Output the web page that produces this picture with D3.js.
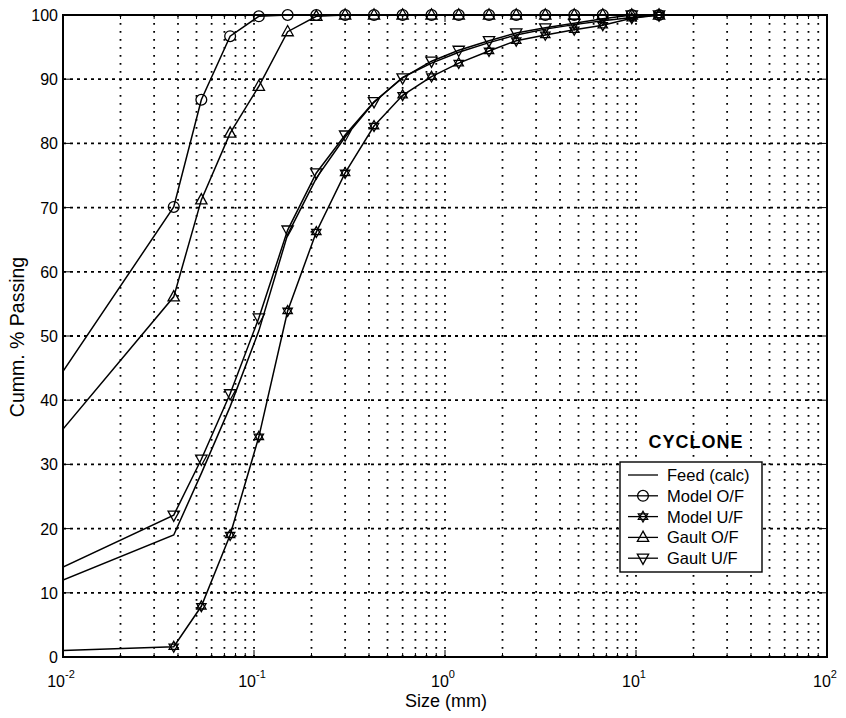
<!DOCTYPE html>
<html>
<head>
<meta charset="utf-8">
<script src="https://cdn.jsdelivr.net/npm/d3@7"></script>
<style>
  body { margin: 0; background: #fff; }
  svg { font-family: "Liberation Sans", Arial, sans-serif; }
</style>
</head>
<body>
<svg id="chart" width="846" height="718"></svg>
<script>
// ---- data ----
// first size (0.01) is the left-edge start of each line (no marker drawn there)
const sizes = [0.01, 0.038, 0.053, 0.075, 0.106, 0.15, 0.212, 0.3, 0.425, 0.6, 0.85, 1.18, 1.7, 2.36, 3.35, 4.75, 6.7, 9.5, 13.2];
const feedCalc = [12.0, 19.0, 28.6, 39.0, 50.8, 65.8, 74.6, 81.0, 86.4, 90.3, 92.5, 94.2, 95.7, 96.9, 97.8, 98.5, 99.1, 99.6, 100];
const modelOF  = [44.5, 70.1, 86.8, 96.7, 99.8, 100, 100, 100, 100, 100, 100, 100, 100, 100, 100, 100, 100, 100, 100];
const modelUF  = [1.0, 1.6, 7.9, 19.0, 34.3, 53.9, 66.2, 75.4, 82.7, 87.5, 90.4, 92.5, 94.4, 96.0, 96.9, 97.7, 98.4, 99.5, 100];
const gaultOF  = [35.5, 56.1, 71.2, 81.6, 88.9, 97.4, 99.8, 100, 100, 100, 100, 100, 100, 100, 100, 100, 100, 100, 100];
const gaultUF  = [14.0, 22.1, 30.8, 41.0, 52.8, 66.5, 75.4, 81.3, 86.5, 90.2, 92.8, 94.5, 96.0, 97.2, 98.0, 98.7, 99.4, 100, 100];

const seriesNames = ["Feed (calc)", "Model O/F", "Model U/F", "Gault O/F", "Gault U/F"];
const seriesValues = [feedCalc, modelOF, modelUF, gaultOF, gaultUF];
const seriesMarkers = ["none", "circle", "hexagram", "triUp", "triDown"];

const xTickExps = [-2, -1, 0, 1, 2];
const yTicks = [0, 10, 20, 30, 40, 50, 60, 70, 80, 90, 100];
const xLabel = "Size (mm)";
const yLabel = "Cumm. % Passing";
const legendTitle = "CYCLONE";

// ---- layout ----
const L = 63, R = 827, T = 15, B = 657;
const svg = d3.select("#chart");
const x = d3.scaleLog().domain([0.01, 100]).range([L, R]);
const y = d3.scaleLinear().domain([0, 100]).range([B, T]);

// minor decade values
const minorVals = [];
for (let e = -2; e < 2; e++) for (let k = 1; k <= 9; k++) minorVals.push(k * Math.pow(10, e));
minorVals.push(100);

// grid: vertical dotted
const grid = svg.append("g");
grid.selectAll("line.v").data(minorVals.filter(v => v > 0.0100001 && v < 99.999)).join("line")
  .attr("x1", d => x(d)).attr("x2", d => x(d)).attr("y1", T).attr("y2", B)
  .attr("stroke", "#000").attr("stroke-width", 1.8).attr("stroke-dasharray", "1.8,6.2");
grid.selectAll("line.h").data(yTicks.filter(v => v > 0 && v < 100)).join("line")
  .attr("x1", L).attr("x2", R).attr("y1", d => y(d)).attr("y2", d => y(d))
  .attr("stroke", "#000").attr("stroke-width", 1.8).attr("stroke-dasharray", "3,4");

// ticks (inward, on all four sides)
const ticks = svg.append("g").attr("stroke", "#000").attr("stroke-width", 1);
minorVals.forEach(v => {
  const major = Math.abs(Math.log10(v) - Math.round(Math.log10(v))) < 1e-9;
  const len = major ? 7 : 4;
  ticks.append("line").attr("x1", x(v)).attr("x2", x(v)).attr("y1", B).attr("y2", B - len);
  ticks.append("line").attr("x1", x(v)).attr("x2", x(v)).attr("y1", T).attr("y2", T + len);
});
yTicks.forEach(v => {
  ticks.append("line").attr("x1", L).attr("x2", L + 7).attr("y1", y(v)).attr("y2", y(v));
  ticks.append("line").attr("x1", R).attr("x2", R - 7).attr("y1", y(v)).attr("y2", y(v));
});

// frame
svg.append("rect").attr("x", L).attr("y", T).attr("width", R - L).attr("height", B - T)
  .attr("fill", "none").attr("stroke", "#000").attr("stroke-width", 2);

// tick labels
svg.append("g").selectAll("text").data(yTicks).join("text")
  .attr("x", L - 5).attr("y", d => y(d) + 6).attr("text-anchor", "end")
  .attr("font-size", 16).text(d => d);

const xl = svg.append("g").selectAll("text").data(xTickExps).join("text")
  .attr("x", d => x(Math.pow(10, d)) - 2).attr("y", B + 30).attr("text-anchor", "middle")
  .attr("font-size", 16);
xl.append("tspan").text("10");
xl.append("tspan").attr("dy", -9).attr("font-size", 11).text(d => d);

// axis titles
svg.append("text").attr("x", 446).attr("y", 707).attr("text-anchor", "middle")
  .attr("font-size", 18).text(xLabel);
svg.append("text").attr("transform", `translate(24,337) rotate(-90)`)
  .attr("text-anchor", "middle").attr("font-size", 19.5).text(yLabel);

// marker drawing
function drawMarker(g, type, cx, cy) {
  const s = 5.4;
  if (type === "circle") {
    g.append("circle").attr("cx", cx).attr("cy", cy).attr("r", s).attr("fill", "none").attr("stroke", "#000").attr("stroke-width", 1.3);
  } else if (type === "triUp" || type === "triDown") {
    const d = type === "triUp" ? 1 : -1;
    const pts = [[cx, cy - d * s * 1.15], [cx - s * 1.05, cy + d * s * 0.75], [cx + s * 1.05, cy + d * s * 0.75]];
    g.append("path").attr("d", "M" + pts.map(p => p.join(",")).join("L") + "Z")
      .attr("fill", "none").attr("stroke", "#000").attr("stroke-width", 1.3);
  } else if (type === "hexagram") {
    const r = s;
    const t1 = [0, 120, 240].map(a => [cx + r * Math.sin(a * Math.PI / 180), cy - r * Math.cos(a * Math.PI / 180)]);
    const t2 = [60, 180, 300].map(a => [cx + r * Math.sin(a * Math.PI / 180), cy - r * Math.cos(a * Math.PI / 180)]);
    [t1, t2].forEach(pts => g.append("path").attr("d", "M" + pts.map(p => p.join(",")).join("L") + "Z")
      .attr("fill", "none").attr("stroke", "#000").attr("stroke-width", 1.3));
  }
}

// clip
svg.append("clipPath").attr("id", "clip").append("rect").attr("x", L).attr("y", T - 8).attr("width", R - L).attr("height", B - T + 8);

const line = d3.line().x(d => x(d[0])).y(d => y(d[1]));
const plot = svg.append("g").attr("clip-path", "url(#clip)");
seriesValues.forEach((vals, i) => {
  const pts = sizes.map((s, j) => [s, vals[j]]);
  plot.append("path").attr("d", line(pts)).attr("fill", "none").attr("stroke", "#000").attr("stroke-width", 1.5);
});
const markG = svg.append("g");
seriesValues.forEach((vals, i) => {
  if (seriesMarkers[i] === "none") return;
  sizes.forEach((s, j) => { if (j > 0) drawMarker(markG, seriesMarkers[i], x(s), y(vals[j])); });
});

// legend
svg.append("text").attr("x", 696).attr("y", 448).attr("text-anchor", "middle")
  .attr("font-size", 18).attr("font-weight", "bold").attr("letter-spacing", 1).text(legendTitle);
const lg = svg.append("g");
lg.append("rect").attr("x", 620).attr("y", 462).attr("width", 142).attr("height", 110)
  .attr("fill", "#fff").attr("stroke", "#000").attr("stroke-width", 1.4);
seriesNames.forEach((name, i) => {
  const yy = 475 + i * 20.8;
  lg.append("line").attr("x1", 628).attr("x2", 658).attr("y1", yy).attr("y2", yy).attr("stroke", "#000").attr("stroke-width", 1.3);
  drawMarker(lg, seriesMarkers[i], 643, yy);
  lg.append("text").attr("x", 667).attr("y", yy + 6).attr("font-size", 16.5).text(name);
});
</script>
</body>
</html>
